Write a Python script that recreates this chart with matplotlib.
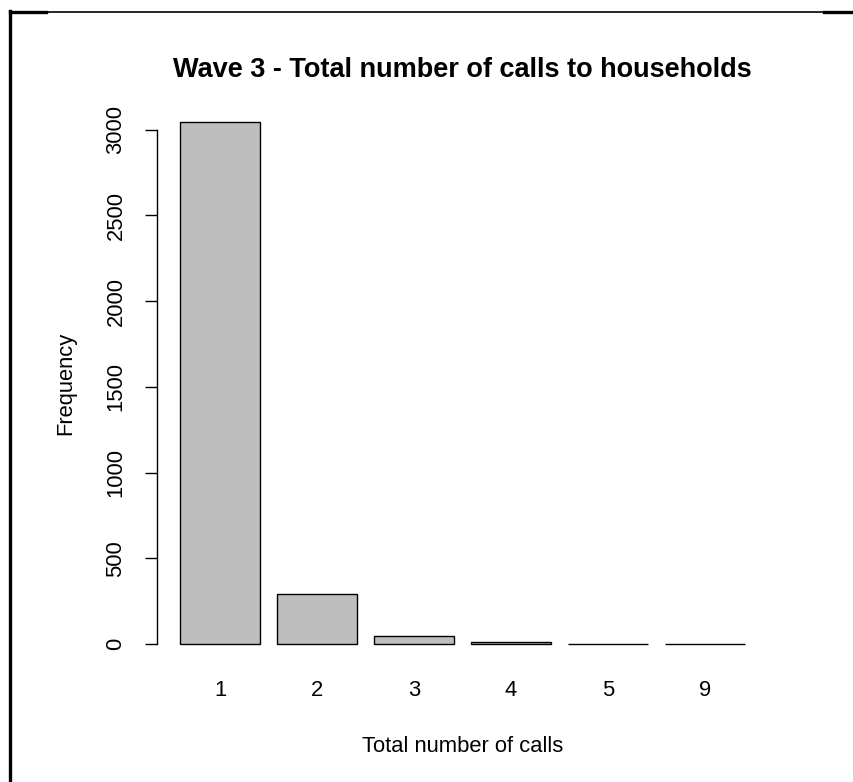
import matplotlib
matplotlib.use("Agg")
import matplotlib.pyplot as plt
from matplotlib.lines import Line2D

plt.rcParams["font.family"] = ["Liberation Sans", "DejaVu Sans"]

# data
calls = ["1", "2", "3", "4", "5", "9"]
freq = [3045, 292, 50, 10, 1, 1]
yticks = [0, 500, 1000, 1500, 2000, 2500, 3000]

W, H = 854, 782
fig = plt.figure(figsize=(W / 100, H / 100), dpi=100)

# plot region in pixels (R style layout)
x0, x1, y0, y1 = 157, 768, 101, 665
ax = fig.add_axes([x0 / W, 1 - y1 / H, (x1 - x0) / W, (y1 - y0) / H])

lefts = [0.2 + 1.2 * i for i in range(len(calls))]
ax.bar(lefts, freq, width=1.0, align="edge", color="#bebebe",
       edgecolor="black", linewidth=1.0)

# R axis ranges: 4% extension
xl = (0.2, 1.2 * len(calls))
dx = (xl[1] - xl[0]) * 0.04
ax.set_xlim(xl[0] - dx, xl[1] + dx)
ymax = max(freq)
ax.set_ylim(-0.04 * ymax, ymax * 1.04)

for s in ["top", "right", "bottom"]:
    ax.spines[s].set_visible(False)
ax.spines["left"].set_bounds(yticks[0], yticks[-1])
ax.spines["left"].set_linewidth(1.0)

fs = 15.8
ax.set_yticks(yticks)
ax.set_yticklabels([str(t) for t in yticks], rotation=90, va="center")
ax.tick_params(axis="y", length=9, width=1.0, pad=13, labelsize=fs)

ax.set_xticks([l + 0.5 for l in lefts])
ax.set_xticklabels(calls)
ax.tick_params(axis="x", length=0, pad=11, labelsize=fs)

ax.set_xlabel("Total number of calls", fontsize=fs, labelpad=25)
ax.set_ylabel("Frequency", fontsize=fs, labelpad=21)
ax.set_title("Wave 3 - Total number of calls to households",
             fontsize=19.5, fontweight="bold", pad=17)

# frame fragments around the picture
fig.add_artist(Line2D([10 / W, 824 / W], [1 - 12 / H, 1 - 12 / H],
                      color="black", linewidth=1.2))
fig.add_artist(Line2D([10 / W, 46 / W], [1 - 12 / H, 1 - 12 / H],
                      color="black", linewidth=2.4))
fig.add_artist(Line2D([824 / W, 1.0], [1 - 12 / H, 1 - 12 / H],
                      color="black", linewidth=2.4))
fig.add_artist(Line2D([10.5 / W, 10.5 / W], [1 - 11 / H, 0.0],
                      color="black", linewidth=2.4))

fig.savefig("out.png", dpi=100)
